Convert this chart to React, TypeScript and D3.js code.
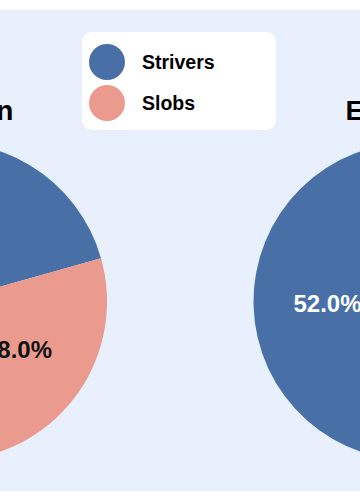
import React from "react";
import * as d3 from "d3";

const groups = ["Strivers", "Slobs"];
const colors = ["#4870a6", "#ea9b8d"];
const pieTitles = ["Suburban", "Employed"];
const leftValues = [72, 28];
const rightValues = [52, 48];

const W = 360;
const H = 500;
const FONT = "'Liberation Sans', Arial, Helvetica, sans-serif";

export default function App() {
  const r = 159;
  const cy = 301.5;
  const centers = [-52, 412.5];
  const start = (175 * Math.PI) / 180;
  const pie = d3
    .pie<number>()
    .sort(null)
    .value((d) => d)
    .startAngle(start)
    .endAngle(start + 2 * Math.PI);
  const arc = d3.arc<d3.PieArcDatum<number>>().innerRadius(0).outerRadius(r);
  const labelArc = d3
    .arc<d3.PieArcDatum<number>>()
    .innerRadius(r * 0.535)
    .outerRadius(r * 0.535);
  const fmt = d3.format(".1f");
  const datasets = [leftValues, rightValues];

  return (
    <svg
      width={W}
      height={H}
      style={{ position: "absolute", left: 0, top: 0, display: "block" }}
      fontFamily={FONT}
    >
      <rect x={0} y={0} width={W} height={H} fill="#ffffff" />
      <rect x={0} y={9.5} width={W} height={481.5} fill="#e8f0fd" />
      {datasets.map((vals, pi) => {
        const total = d3.sum(vals);
        const arcs = pie(vals);
        return (
          <g key={pi} transform={`translate(${centers[pi]},${cy})`}>
            {arcs.map((a, i) => (
              <path key={i} d={arc(a) || ""} fill={colors[i]} />
            ))}
            {arcs.map((a, i) => {
              const [lx, ly] = labelArc.centroid(a);
              return (
                <text
                  key={"l" + i}
                  x={lx}
                  y={ly}
                  dy="0.36em"
                  textAnchor="middle"
                  fontSize={24}
                  fontWeight="bold"
                  fill={i === 0 ? "#ffffff" : "#111111"}
                >
                  {fmt((vals[i] / total) * 100)}%
                </text>
              );
            })}
            <text
              x={0}
              y={120 - cy}
              textAnchor="middle"
              fontSize={28}
              fontWeight="bold"
              fill="#000000"
            >
              {pieTitles[pi]}
            </text>
          </g>
        );
      })}
      <rect x={82} y={32} width={194} height={98} rx={10} fill="#ffffff" />
      {groups.map((g, i) => (
        <g key={g} transform={`translate(0,${62 + i * 41})`}>
          <circle cx={107} cy={0} r={18} fill={colors[i]} />
          <text
            x={142}
            y={0}
            dy="0.35em"
            fontSize={19.5}
            fontWeight="bold"
            fill="#000000"
          >
            {g}
          </text>
        </g>
      ))}
    </svg>
  );
}
